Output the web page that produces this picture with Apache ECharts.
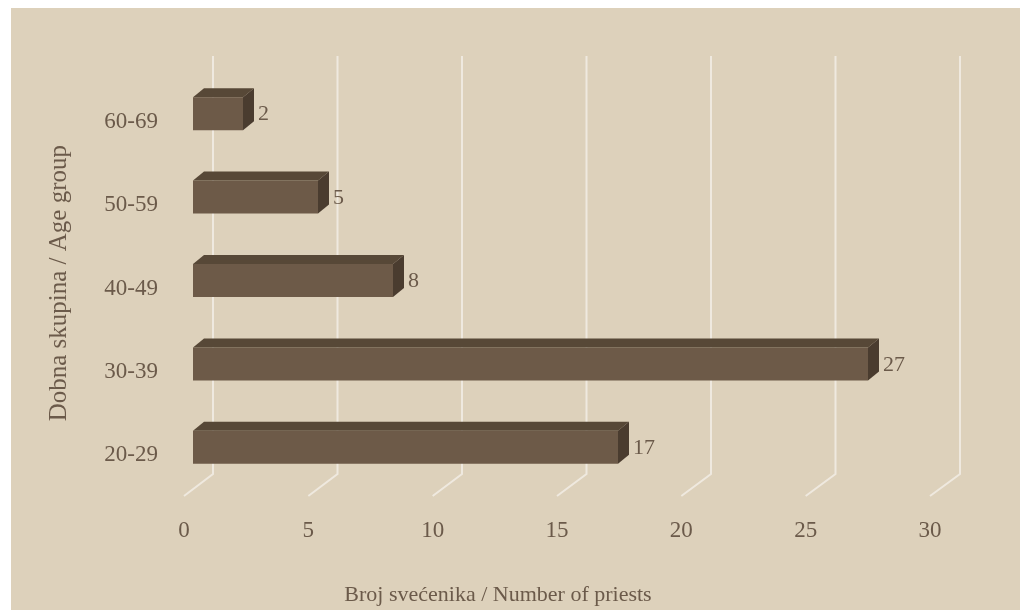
<!DOCTYPE html>
<html>
<head>
<meta charset="utf-8">
<script src="https://cdn.jsdelivr.net/npm/echarts@6/dist/echarts.min.js"></script>
<style>
html,body{margin:0;padding:0;background:#ffffff;}
#panel{position:absolute;left:11px;top:8px;width:1009px;height:602px;background:#ddd1bb;}
#chart{position:absolute;left:0;top:0;width:1025px;height:610px;}
</style>
</head>
<body>
<div id="panel"></div>
<div id="chart"></div>
<script>
const categories = ['20-29', '30-39', '40-49', '50-59', '60-69'];
const values = [17, 27, 8, 5, 2];
const xTicks = [0, 5, 10, 15, 20, 25, 30];
const xTitle = 'Broj svećenika / Number of priests';
const yTitle = 'Dobna skupina / Age group';

const FONT = '"Liberation Serif", "DejaVu Serif", serif';
const TEXT = '#6b5a4a';
const FRONT = '#6d5a48';
const TOP = '#574837';
const SIDE = '#4a3c2f';
const GRID = '#efe9df';
const DX = 11, DY = -9, BAR_H = 33;

const chart = echarts.init(document.getElementById('chart'), null, {renderer: 'canvas'});

const option = {
  backgroundColor: 'transparent',
  animation: false,
  grid: {left: 193, right: 82, top: 72, bottom: 121},
  xAxis: {
    type: 'value', min: 0, max: 30, interval: 5,
    axisLine: {show: false}, axisTick: {show: false},
    axisLabel: {show: false}, splitLine: {show: false}
  },
  yAxis: {
    type: 'category', data: categories,
    axisLine: {show: false}, axisTick: {show: false}, splitLine: {show: false},
    axisLabel: {show: false}
  },
  title: [
    {text: xTitle, left: 493, top: 579, textAlign: 'center',
     textStyle: {color: TEXT, fontFamily: FONT, fontSize: 22, fontWeight: 'normal'}},
  ],
  graphic: [
    {type: 'text', left: 47, top: 145, rotation: Math.PI / 2,
     style: {text: yTitle, fill: TEXT, font: '25px ' + FONT,
       textAlign: 'center', textVerticalAlign: 'middle'}}
  ],
  series: [
    {
      type: 'custom', z: 1, silent: true,
      data: xTicks.map(v => [v]),
      renderItem: function (params, api) {
        const v = api.value(0);
        const p0 = api.coord([0, 0]);
        const p = api.coord([v, 0]);
        const bx = 213 + (p[0] - p0[0]) * (747 / 750);
        const fx = 184 + (p[0] - p0[0]) * (746 / 750);
        return {
          type: 'group',
          children: [
            {type: 'polyline', shape: {points: [[bx, 56], [bx, 474], [fx, 496]]},
             style: {stroke: GRID, lineWidth: 2, fill: null}},
            {type: 'text', style: {x: fx, y: 531, text: String(v), fill: TEXT,
              font: '23px ' + FONT, textAlign: 'center', textVerticalAlign: 'middle'}}
          ]
        };
      }
    },
    {
      type: 'custom', z: 2, silent: true,
      data: values.map((v, i) => [v, i, categories[i]]),
      dimensions: ['value', 'index', 'category'],
      renderItem: function (params, api) {
        const v = api.value(0), c = api.value(1);
        const cat = categories[c];
        const a = api.coord([0, c]);
        const b = api.coord([v, c]);
        const x0 = a[0], x1 = b[0], cy = a[1];
        const t = cy - BAR_H / 2, btm = cy + BAR_H / 2;
        return {
          type: 'group',
          children: [
            {type: 'polygon', shape: {points: [[x0, t], [x0 + DX, t + DY], [x1 + DX, t + DY], [x1, t]]},
             style: {fill: TOP}},
            {type: 'polygon', shape: {points: [[x1, t], [x1 + DX, t + DY], [x1 + DX, btm + DY], [x1, btm]]},
             style: {fill: SIDE}},
            {type: 'rect', shape: {x: x0, y: t, width: x1 - x0, height: BAR_H},
             style: {fill: FRONT}},
            {type: 'text', style: {x: x1 + 15, y: cy + 1, text: String(v), fill: TEXT,
              font: '22px ' + FONT, textAlign: 'left', textVerticalAlign: 'middle'}},
            {type: 'text', style: {x: x0 - 35, y: cy + 8, text: cat, fill: TEXT,
              font: '23px ' + FONT, textAlign: 'right', textVerticalAlign: 'middle'}}
          ]
        };
      }
    }
  ]
};
chart.setOption(option);
</script>
</body>
</html>
